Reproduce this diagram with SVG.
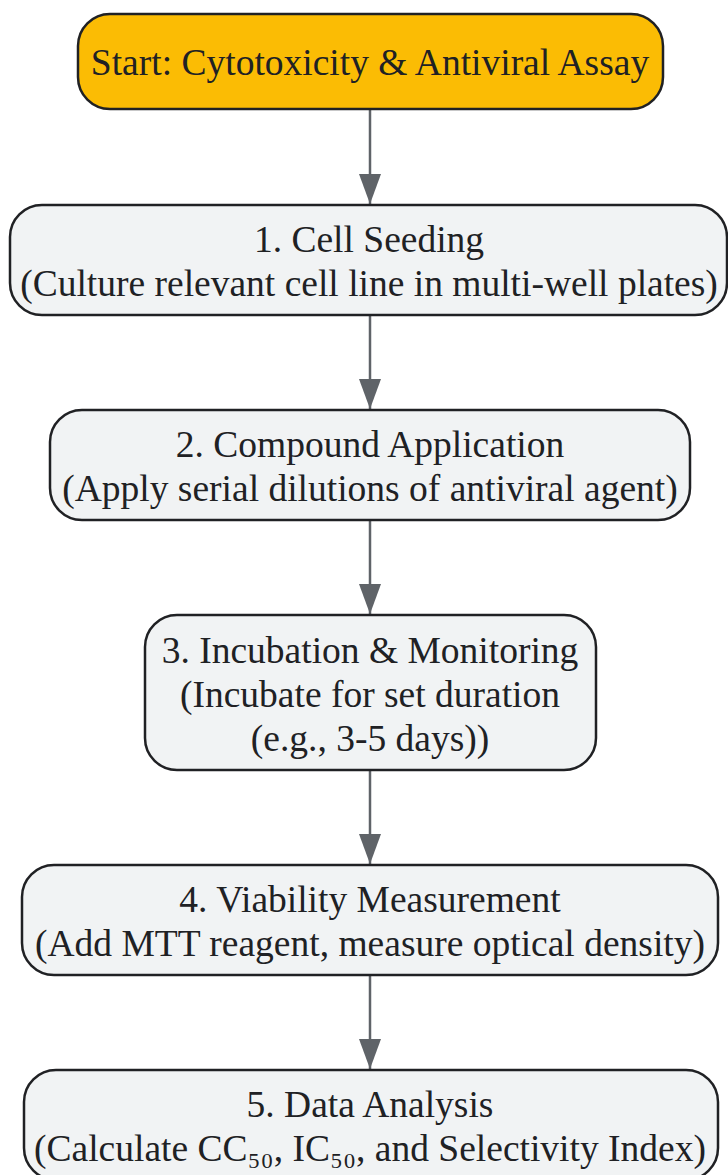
<svg xmlns="http://www.w3.org/2000/svg" width="728" height="1175" viewBox="0 0 728 1175">
<style>
.node rect{fill:#F1F3F4;stroke:#202124;stroke-width:2.5}
#start rect{fill:#FBBC04}
text{font-family:"Liberation Serif","Times New Roman",serif;font-size:37.5px;fill:#202124;text-anchor:middle}
.edge{stroke:#5F6368;stroke-width:2.5;fill:none;marker-end:url(#arr)}
</style>
<defs>
<marker id="arr" viewBox="0 0 30 22" refX="30" refY="11" markerWidth="30" markerHeight="22" markerUnits="userSpaceOnUse" orient="auto">
<path d="M0,0 L30,11 L0,22 z" fill="#5F6368"/>
</marker>
</defs>
<rect width="728" height="1175" fill="#FFFFFF"/>
<g id="edges">
<path class="edge" d="M370,109 L370,204"/>
<path class="edge" d="M370,315 L370,409"/>
<path class="edge" d="M370,520 L370,614"/>
<path class="edge" d="M370,770 L370,864"/>
<path class="edge" d="M370,975 L370,1069"/>
</g>
<g id="start" class="node">
<rect x="78" y="14" width="585" height="95" rx="32"/>
<text x="370" y="75">Start: Cytotoxicity &amp; Antiviral Assay</text>
</g>
<g id="n1" class="node">
<rect x="10" y="205" width="717" height="110" rx="32"/>
<text x="369" y="252">1. Cell Seeding</text>
<text x="369" y="296">(Culture relevant cell line in multi-well plates)</text>
</g>
<g id="n2" class="node">
<rect x="50" y="410" width="640" height="110" rx="32"/>
<text x="370" y="457">2. Compound Application</text>
<text x="370" y="501">(Apply serial dilutions of antiviral agent)</text>
</g>
<g id="n3" class="node">
<rect x="145" y="615" width="451" height="155" rx="32"/>
<text x="370" y="663">3. Incubation &amp; Monitoring</text>
<text x="370" y="707">(Incubate for set duration</text>
<text x="370" y="751">(e.g., 3-5 days))</text>
</g>
<g id="n4" class="node">
<rect x="22" y="865" width="696" height="110" rx="32"/>
<text x="370" y="912">4. Viability Measurement</text>
<text x="370" y="956">(Add MTT reagent, measure optical density)</text>
</g>
<g id="n5" class="node">
<rect x="24" y="1070" width="694" height="110" rx="32"/>
<text x="370" y="1117">5. Data Analysis</text>
<text x="370" y="1161">(Calculate CC₅₀, IC₅₀, and Selectivity Index)</text>
</g>
</svg>
